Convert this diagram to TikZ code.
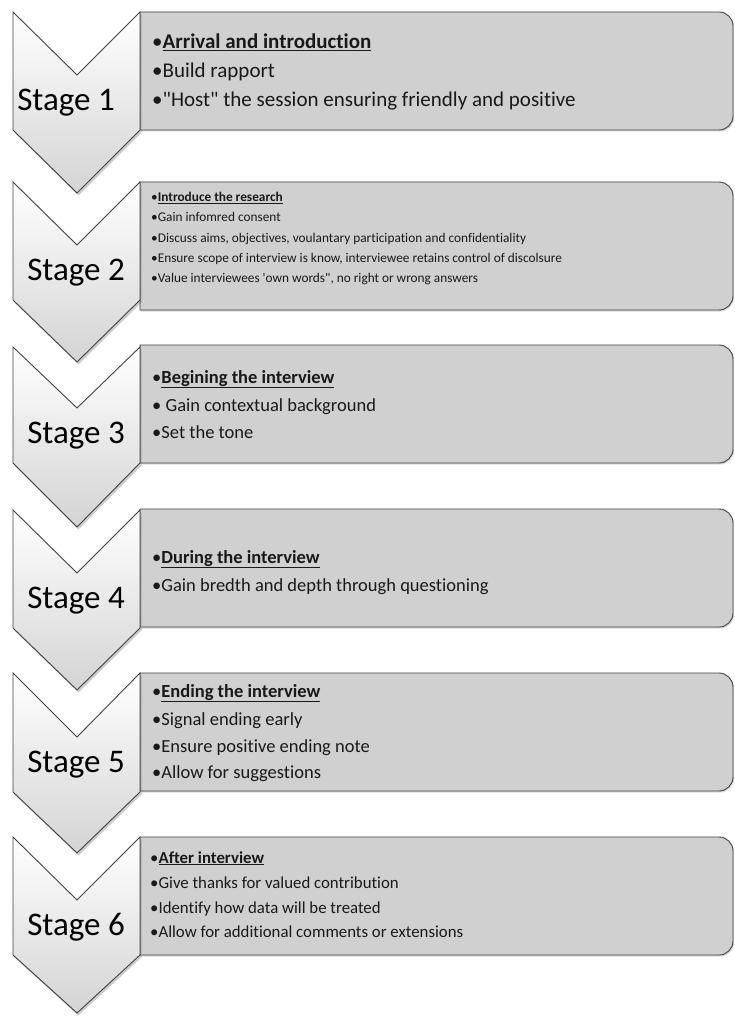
\documentclass[tikz,border=0pt]{standalone}
\usepackage{fontspec}
\setmainfont{Carlito}[Ligatures={TeXOff,CommonOff}]
\usetikzlibrary{shadows}
\newcommand{\myfa}{\fontsize{21}{21}\selectfont}
\newcommand{\myfb}{\fontsize{13.3}{13.3}\selectfont}
\newcommand{\myfc}{\fontsize{18.5}{18.5}\selectfont}
\newcommand{\myfd}{\fontsize{16.8}{16.8}\selectfont}
\newcommand{\stagebox}[2]{%
  \draw[sbox] (140,#1) -- (719,#1) arc[start angle=270,end angle=360,radius=14]
    -- (733,#2-14) arc[start angle=0,end angle=90,radius=14] -- (140,#2) -- cycle;}
\newcommand{\chevron}[4]{%
  \draw[chev] (13,#1) -- (77,#2) -- (140,#1) -- (140,#3) -- (77,#4) -- (13,#3) -- cycle;}
\tikzset{
  chev/.style={draw=black!75, line width=0.9pt, top color=white, middle color=white,
    bottom color=black!17,
    drop shadow={shadow xshift=1.5pt, shadow yshift=-2.5pt, opacity=0.28, fill=black!70}},
  sbox/.style={draw=black!75, line width=0.9pt, fill=black!18.4,
    drop shadow={shadow xshift=1pt, shadow yshift=-1.5pt, opacity=0.22, fill=black!70}},
  stagelbl/.style={font=\fontsize{33}{33}\selectfont, text=black, inner sep=0pt},
  bl/.style={anchor=base west, inner sep=0pt, text=black!90}
}
\begin{document}
\begin{tikzpicture}[x=1pt,y=-1pt]
\useasboundingbox (0,0) rectangle (735,1016);
% boxes
\stagebox{12}{130}
\stagebox{182}{310}
\stagebox{345}{463}
\stagebox{509}{627}
\stagebox{673}{791}
\stagebox{837}{955}
% chevrons
\chevron{12}{75}{130}{193}
\chevron{182}{245}{300}{362}
\chevron{347}{408}{463}{527}
\chevron{510}{573}{628}{690}
\chevron{673}{737}{792}{853}
\chevron{837}{900}{955}{1013}
% stage labels
\node[stagelbl] (s1) at (66,102.5) {Stage 1};
\node[stagelbl] (s2) at (76,272.5) {Stage 2};
\node[stagelbl] (s3) at (76,435.5) {Stage 3};
\node[stagelbl] (s4) at (76,600.5) {Stage 4};
\node[stagelbl] (s5) at (76,764.5) {Stage 5};
\node[stagelbl] (s6) at (76,927.5) {Stage 6};
% box 1
\node[bl, font=\myfa] (a1) at (152,49) {•\underline{\textbf{Arrival and introduction}}};
\node[bl, font=\myfa] (a2) at (152,78) {•Build rapport};
\node[bl, font=\myfa] (a3) at (152,107) {•"Host" the session ensuring friendly and positive};
% box 2
\node[bl, font=\myfb] (b1) at (151,202) {•\underline{\textbf{Introduce the research}}};
\node[bl, font=\myfb] (b2) at (151,222) {•Gain infomred consent};
\node[bl, font=\myfb] (b3) at (151,242) {•Discuss aims, objectives, voulantary participation and confidentiality};
\node[bl, font=\myfb] (b4) at (151,262) {•Ensure scope of interview is know, interviewee retains control of discolsure};
\node[bl, font=\myfb] (b5) at (151,282) {•Value interviewees 'own words", no right or wrong answers};
% box 3
\node[bl, font=\myfc] (c1) at (152,383) {•\underline{\textbf{Begining the interview}}};
\node[bl, font=\myfc] (c2) at (152,411) {• Gain contextual background};
\node[bl, font=\myfc] (c3) at (152,438) {•Set the tone};
% box 4
\node[bl, font=\myfc] (d1) at (152,563) {•\underline{\textbf{During the interview}}};
\node[bl, font=\myfc] (d2) at (152,591) {•Gain bredth and depth through questioning};
% box 5
\node[bl, font=\myfc] (e1) at (152,697) {•\underline{\textbf{Ending the interview}}};
\node[bl, font=\myfc] (e2) at (152,725) {•Signal ending early};
\node[bl, font=\myfc] (e3) at (152,752) {•Ensure positive ending note};
\node[bl, font=\myfc] (e4) at (152,778) {•Allow for suggestions};
% box 6
\node[bl, font=\myfd] (f1) at (150,863) {•\underline{\textbf{After interview}}};
\node[bl, font=\myfd] (f2) at (150,888) {•Give thanks for valued contribution};
\node[bl, font=\myfd] (f3) at (150,913) {•Identify how data will be treated};
\node[bl, font=\myfd] (f4) at (150,937) {•Allow for additional comments or extensions};
\end{tikzpicture}
\end{document}
